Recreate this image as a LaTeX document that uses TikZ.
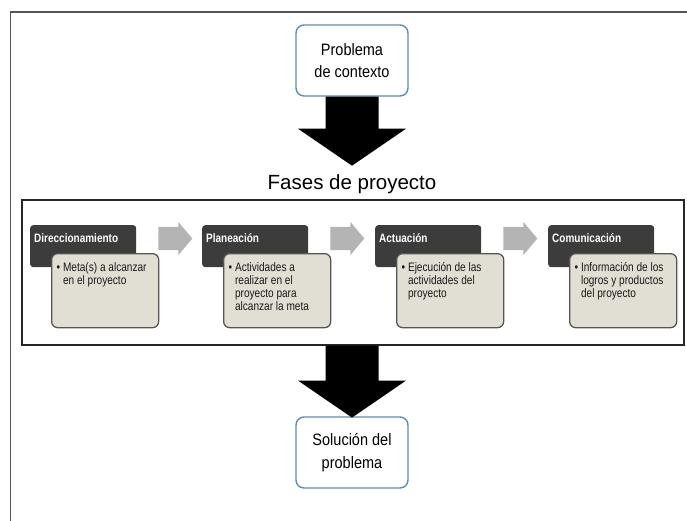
\documentclass[tikz,border=0pt]{standalone}
\usepackage{fontspec}
\setmainfont{Liberation Sans}
\newfontfamily\narrowfont{Liberation Sans}[FakeStretch=0.82]
\newfontfamily\endfont{Liberation Sans}[FakeStretch=0.88]
\usetikzlibrary{calc,shapes.arrows,positioning}

\definecolor{framegray}{HTML}{555555}
\definecolor{boxblue}{HTML}{5E8EAE}
\definecolor{headgray}{HTML}{3C3C3C}
\definecolor{bodybeige}{HTML}{E1DED4}
\definecolor{bodyedge}{HTML}{555555}
\definecolor{stepgray}{HTML}{B4B4B4}

\newcommand{\hang}{\hphantom{\textbullet\ }}

\begin{document}
\begin{tikzpicture}[
    x=1pt, y=-1pt,
    endbox/.style={draw=boxblue, line width=1.4pt, fill=white, rounded corners=8pt,
        minimum width=112pt, minimum height=71pt, align=center},
    headbox/.style={fill=headgray, rounded corners=3pt, minimum width=106pt,
        minimum height=42pt, anchor=north west, inner sep=0pt},
    headtext/.style={text=white, font=\narrowfont\bfseries\fontsize{12.2}{14}\selectfont,
        anchor=west, inner sep=0pt},
    bodybox/.style={draw=bodyedge, line width=1.3pt, fill=bodybeige, rounded corners=6pt,
        minimum width=107pt, minimum height=74pt, anchor=north west, inner sep=0pt},
    bodytext/.style={align=left, anchor=north west, inner sep=0pt,
        font=\narrowfont\fontsize{12.3}{13}\selectfont, text=black!90},
    steparrow/.style={single arrow, fill=stepgray, inner sep=11.5pt, minimum height=34pt,
        single arrow head extend=5pt, single arrow tip angle=100}
]
\useasboundingbox (0,0) rectangle (687,521);

% page frame
\draw[framegray, line width=1.6pt] (10.5,521) -- (10.5,12) -- (687,12);

\node[endbox, font=\endfont\fontsize{16.5}{22}\selectfont] (prob) at (352,60.5) {Problema\\de contexto};
\node[font=\fontsize{20.5}{24}\selectfont, anchor=base, inner sep=0pt] (title) at (352,190) {Fases de proyecto};
\node[draw=black!85, line width=1.2pt, minimum width=662pt, minimum height=145pt,
    inner sep=0pt] (phases) at (353,272.5) {};
\node[endbox, font=\endfont\fontsize{16.5}{23}\selectfont] (sol) at (352,452.5) {Solución del\\problema};

% big arrows
\fill (prob.south) ++(-26.5,0) -- ++(0,32) -- ++(-27.5,0) -- ++(54,37)
    -- ++(54,-37) -- ++(-27.5,0) -- ++(0,-32) -- cycle;
\fill ($(phases.south)+(-1,0)$) ++(-26.5,0) -- ++(0,35) -- ++(-27.5,0) -- ++(54,37)
    -- ++(54,-37) -- ++(-27.5,0) -- ++(0,-35) -- cycle;

% phases
\foreach \i/\x/\hd/\bd in {
    1/30/Direccionamiento/{Meta(s) a alcanzar\\\hang en el proyecto},
    2/202/Planeación/{Actividades a\\\hang realizar en el\\\hang proyecto para\\\hang alcanzar la meta},
    3/375/Actuación/{Ejecución de las\\\hang actividades del\\\hang proyecto},
    4/548/Comunicación/{Información de los\\\hang logros y productos\\\hang del proyecto}} {
    \node[headbox] (h\i) at (\x,225) {};
    \node[headtext] (ht\i) at ($(h\i.north west)+(4,13)$) {\hd};
    \node[bodybox] (b\i) at (\x+21,253) {};
    \node[bodytext] (bt\i) at ($(b\i.north west)+(5.5,9)$) {\textbullet\ \bd};
}

\foreach \i in {1,2,3} {
    \node[steparrow] (s\i) at ($(h\i.north east)+(34,13.5)$) {};
}
\end{tikzpicture}
\end{document}
